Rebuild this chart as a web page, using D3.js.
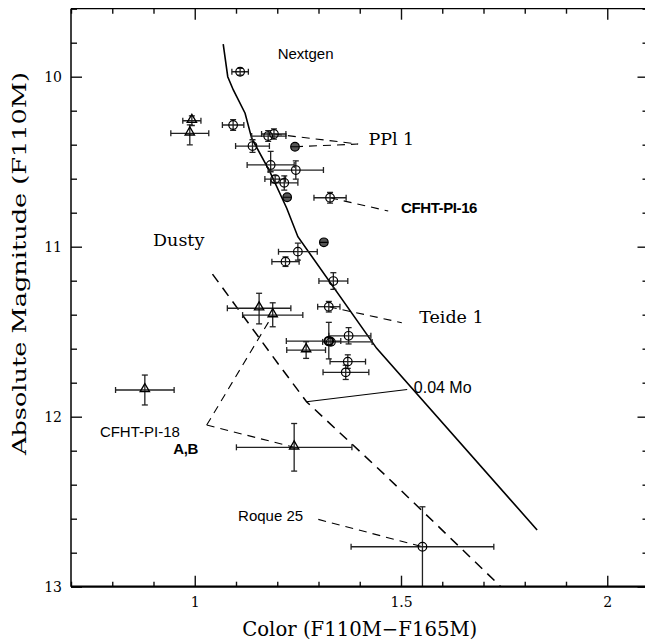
<!DOCTYPE html>
<html><head><meta charset="utf-8">
<script src="https://cdn.jsdelivr.net/npm/d3@7"></script>
<style>body{margin:0;background:#fff}svg{display:block}</style>
</head><body>
<svg id="c" width="645" height="641"></svg>
<script>
// ---- data (color F110M-F165M, absolute magnitude F110M) ----
// circles: [color, mag, xErrLeft, xErrRight, yErrUp, yErrDown, kind]
const circles = [
  [1.110, 9.971, 0.020, 0.020, 0.020, 0.020, 'o'],
  [1.093, 10.284, 0.026, 0.026, 0.031, 0.031, 'o'],
  [1.140, 10.408, 0.041, 0.041, 0.037, 0.037, 'o'],
  [1.178, 10.349, 0.040, 0.043, 0.032, 0.032, 'o'],
  [1.192, 10.337, 0.030, 0.029, 0.030, 0.030, 'o'],
  [1.243, 10.412, 0.008, 0.008, 0.008, 0.008, 'd'],
  [1.184, 10.519, 0.057, 0.057, 0.080, 0.040, 'o'],
  [1.245, 10.549, 0.067, 0.067, 0.054, 0.054, 'o'],
  [1.195, 10.602, 0.025, 0.025, 0.020, 0.020, 'o'],
  [1.217, 10.624, 0.033, 0.033, 0.041, 0.043, 'o'],
  [1.224, 10.709, 0.008, 0.008, 0.008, 0.008, 'd'],
  [1.328, 10.712, 0.039, 0.039, 0.032, 0.032, 'o'],
  [1.313, 10.974, 0.008, 0.008, 0.008, 0.008, 'd'],
  [1.250, 11.029, 0.047, 0.047, 0.050, 0.050, 'o'],
  [1.220, 11.088, 0.033, 0.033, 0.028, 0.028, 'o'],
  [1.336, 11.202, 0.035, 0.035, 0.049, 0.049, 'o'],
  [1.325, 11.353, 0.027, 0.027, 0.031, 0.031, 'o'],
  [1.373, 11.524, 0.048, 0.054, 0.048, 0.048, 'o'],
  [1.325, 11.555, 0.103, 0.029, 0.110, 0.105, 'b'],
  [1.330, 11.560, 0.020, 0.100, 0.020, 0.020, 'o'],
  [1.371, 11.676, 0.043, 0.043, 0.040, 0.040, 'o'],
  [1.366, 11.739, 0.055, 0.056, 0.042, 0.042, 'o'],
  [1.552, 12.765, 0.173, 0.173, 0.235, 0.240, 'o']
];
// triangles: [color, mag, xErrLeft, xErrRight, yErrUp, yErrDown]
const triangles = [
  [0.993, 10.259, 0.022, 0.022, 0.028, 0.028],
  [0.988, 10.333, 0.046, 0.046, 0.050, 0.068],
  [1.156, 11.362, 0.077, 0.077, 0.088, 0.092],
  [1.189, 11.402, 0.073, 0.073, 0.072, 0.069],
  [1.270, 11.608, 0.047, 0.047, 0.049, 0.049],
  [0.879, 11.843, 0.071, 0.071, 0.088, 0.088],
  [1.241, 12.180, 0.140, 0.140, 0.140, 0.140]
];
// model isochrones
const nextgenColor = [1.069, 1.080, 1.0935, 1.122, 1.138, 1.182, 1.223, 1.250, 1.441, 1.830];
const nextgenMag   = [9.809, 10.000, 10.078, 10.215, 10.362, 10.559, 10.774, 10.941, 11.598, 12.666];
const dustyColor = [1.043, 1.2025, 1.271, 1.461, 1.742];
const dustyMag   = [11.161, 11.690, 11.912, 12.342, 13.0];
// 0.04 Msun connector
const massColor = [1.271, 1.515];
const massMag   = [11.912, 11.84];
// ticks
const xMajor = [1, 1.5, 2];
const yMajor = [10, 11, 12, 13];
// labels: [text, color, mag, style]
const labels = [
  ['Nextgen', 1.201, 9.896, 'sans'],
  ['PPl 1', 1.421, 10.402, 'serif'],
  ['CFHT-PI-16', 1.500, 10.804, 'sansbold'],
  ['Dusty', 0.899, 10.996, 'serif'],
  ['Teide 1', 1.544, 11.451, 'serif'],
  ['0.04 Mo', 1.531, 11.861, 'sans16'],
  ['CFHT-PI-18', 0.770, 12.121, 'sans'],
  ['A,B', 0.948, 12.221, 'sansbold'],
  ['Roque 25', 1.105, 12.614, 'sans']
];
// dashed pointer lines: [c1, m1, c2, m2]
const pointers = [
  [1.192, 10.337, 1.396, 10.396],
  [1.243, 10.412, 1.396, 10.396],
  [1.328, 10.712, 1.469, 10.790],
  [1.325, 11.353, 1.502, 11.447],
  [1.029, 12.049, 1.241, 12.180],
  [1.029, 12.049, 1.189, 11.402],
  [1.2995, 12.604, 1.552, 12.765]
];

// ---- drawing ----
const svg = d3.select('#c');
const x = d3.scaleLinear().domain([0.7, 2.1]).range([71, 648.5]);
const y = d3.scaleLinear().domain([9.6, 13]).range([8.7, 586.7]);
const SERIF = '"DejaVu Serif", serif';
const SANS = '"Liberation Sans", Arial, sans-serif';

svg.append('defs').append('clipPath').attr('id', 'clip')
  .append('rect').attr('x', x(0.7)).attr('y', y(9.6))
  .attr('width', x(2.1) - x(0.7)).attr('height', y(13) - y(9.6));

const plot = svg.append('g').attr('clip-path', 'url(#clip)');
const line = d3.line().x(d => x(d[0])).y(d => y(d[1]));

// isochrones
plot.append('path').datum(nextgenColor.map((c, i) => [c, nextgenMag[i]]))
  .attr('d', line).attr('fill', 'none').attr('stroke', '#000').attr('stroke-width', 1.6);
plot.append('path').datum(dustyColor.map((c, i) => [c, dustyMag[i]]))
  .attr('d', line).attr('fill', 'none').attr('stroke', '#000').attr('stroke-width', 1.5)
  .attr('stroke-dasharray', '10,7');
plot.append('path').datum(massColor.map((c, i) => [c, massMag[i]]))
  .attr('d', line).attr('fill', 'none').attr('stroke', '#000').attr('stroke-width', 1.2);

// pointers
plot.selectAll('.ptr').data(pointers).enter().append('line')
  .attr('x1', d => x(d[0])).attr('y1', d => y(d[1]))
  .attr('x2', d => x(d[2])).attr('y2', d => y(d[3]))
  .attr('stroke', '#000').attr('stroke-width', 1.1).attr('stroke-dasharray', '8,6');

// error bars
function errbars(data) {
  const g = plot.append('g').attr('stroke', '#222').attr('stroke-width', 1.3).attr('fill', 'none');
  const cap = 3;
  data.forEach(d => {
    const cx = x(d[0]), cy = y(d[1]);
    const xl = x(d[0] - d[2]), xr = x(d[0] + d[3]);
    const yt = y(d[1] - d[4]), yb = y(d[1] + d[5]);
    g.append('line').attr('x1', xl).attr('x2', xr).attr('y1', cy).attr('y2', cy);
    g.append('line').attr('x1', xl).attr('x2', xl).attr('y1', cy - cap).attr('y2', cy + cap);
    g.append('line').attr('x1', xr).attr('x2', xr).attr('y1', cy - cap).attr('y2', cy + cap);
    g.append('line').attr('x1', cx).attr('x2', cx).attr('y1', yt).attr('y2', yb);
    g.append('line').attr('x1', cx - cap).attr('x2', cx + cap).attr('y1', yt).attr('y2', yt);
    g.append('line').attr('x1', cx - cap).attr('x2', cx + cap).attr('y1', yb).attr('y2', yb);
  });
}
errbars(circles);
errbars(triangles);

plot.selectAll('.circ').data(circles).enter().append('circle')
  .attr('cx', d => x(d[0])).attr('cy', d => y(d[1])).attr('r', 4.3)
  .attr('fill', d => d[6] === 'd' ? '#555' : 'none')
  .attr('stroke', '#000').attr('stroke-width', d => d[6] === 'b' ? 2 : 1.2);
plot.selectAll('.darkbar').data(circles.filter(d => d[6] === 'd')).enter().append('line')
  .attr('x1', d => x(d[0]) - 4).attr('x2', d => x(d[0]) + 4)
  .attr('y1', d => y(d[1])).attr('y2', d => y(d[1]))
  .attr('stroke', '#000').attr('stroke-width', 1.2);

const tri = d3.symbol().type(d3.symbolTriangle).size(38);
plot.selectAll('.tri').data(triangles).enter().append('path')
  .attr('transform', d => `translate(${x(d[0])},${y(d[1]) - 1})`)
  .attr('d', tri).attr('fill', 'none').attr('stroke', '#000').attr('stroke-width', 1.3);

// labels
const styles = {
  sans: {f: SANS, s: 15, w: 'normal'},
  sans16: {f: SANS, s: 16, w: 'normal'},
  sansbold: {f: SANS, s: 15, w: 'bold'},
  serif: {f: SERIF, s: 17.5, w: 'normal'}
};
svg.selectAll('.lab').data(labels).enter().append('text')
  .attr('x', d => x(d[1])).attr('y', d => y(d[2]))
  .attr('font-family', d => styles[d[3]].f)
  .attr('font-size', d => styles[d[3]].s)
  .attr('font-weight', d => styles[d[3]].w)
  .attr('letter-spacing', d => d[3] === 'sansbold' ? -0.4 : 0)
  .attr('fill', '#000').text(d => d[0]);

// axes
const minorX = d3.range(7, 22).map(i => i / 10).filter(v => !xMajor.some(m => Math.abs(m - v) < 1e-9));
const minorY = d3.range(48, 66).map(i => i / 5).filter(v => !yMajor.some(m => Math.abs(m - v) < 1e-9));

function styleAxis(g) {
  g.select('.domain').remove();
  g.selectAll('.tick line').attr('stroke', '#111').attr('stroke-width', 1.4);
  g.selectAll('.tick text').attr('font-family', SERIF).attr('font-size', 14).attr('fill', '#000');
}
const fmt = d => String(d);
svg.append('g').attr('transform', `translate(0,${y(13)})`)
  .call(d3.axisBottom(x).tickValues(xMajor).tickSize(-11).tickPadding(10).tickFormat(fmt)).call(styleAxis);
svg.append('g').attr('transform', `translate(0,${y(13)})`)
  .call(d3.axisBottom(x).tickValues(minorX).tickSize(-5).tickFormat('')).call(styleAxis);
svg.append('g').attr('transform', `translate(0,${y(9.6)})`)
  .call(d3.axisTop(x).tickValues(xMajor).tickSize(-11).tickFormat('')).call(styleAxis);
svg.append('g').attr('transform', `translate(0,${y(9.6)})`)
  .call(d3.axisTop(x).tickValues(minorX).tickSize(-5).tickFormat('')).call(styleAxis);
svg.append('g').attr('transform', `translate(${x(0.7)},0)`)
  .call(d3.axisLeft(y).tickValues(yMajor).tickSize(-11).tickPadding(9).tickFormat(fmt)).call(styleAxis);
svg.append('g').attr('transform', `translate(${x(0.7)},0)`)
  .call(d3.axisLeft(y).tickValues(minorY).tickSize(-6).tickFormat('')).call(styleAxis);
svg.append('g').attr('transform', `translate(${x(2.1)},0)`)
  .call(d3.axisRight(y).tickValues(yMajor).tickSize(-11).tickFormat('')).call(styleAxis);
svg.append('g').attr('transform', `translate(${x(2.1)},0)`)
  .call(d3.axisRight(y).tickValues(minorY).tickSize(-6).tickFormat('')).call(styleAxis);

// spines
svg.append('line').attr('x1', x(0.7)).attr('x2', x(0.7)).attr('y1', y(9.6)).attr('y2', y(13))
  .attr('stroke', '#000').attr('stroke-width', 1.5);
svg.append('line').attr('x1', x(0.7)).attr('x2', x(2.1)).attr('y1', y(13)).attr('y2', y(13))
  .attr('stroke', '#000').attr('stroke-width', 2.2);
svg.append('line').attr('x1', x(0.7)).attr('x2', x(2.1)).attr('y1', y(9.6)).attr('y2', y(9.6))
  .attr('stroke', '#000').attr('stroke-width', 1.2);

// axis titles
svg.append('text').attr('x', (x(0.7) + x(2.1)) / 2).attr('y', 636)
  .attr('text-anchor', 'middle').attr('font-family', SERIF).attr('font-size', 20)
  .attr('textLength', 235).attr('lengthAdjust', 'spacingAndGlyphs')
  .text('Color (F110M\u2212F165M)');
svg.append('text').attr('transform', 'translate(26,263.5) rotate(-90)')
  .attr('text-anchor', 'middle').attr('font-family', SERIF).attr('font-size', 19)
  .attr('textLength', 383).attr('lengthAdjust', 'spacingAndGlyphs')
  .text('Absolute Magnitude (F110M)');
</script>
</body></html>
